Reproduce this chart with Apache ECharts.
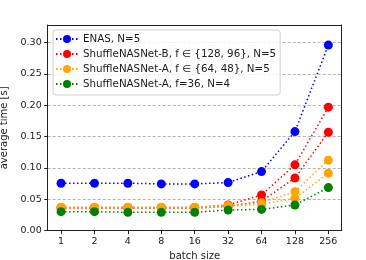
<!DOCTYPE html>
<html>
<head>
<meta charset="utf-8">
<script src="https://cdn.jsdelivr.net/npm/echarts@6/dist/echarts.min.js"></script>
<style>html,body{margin:0;padding:0;background:#fff}#c{width:366px;height:260px}</style>
</head>
<body>
<div id="c"></div>
<script>
var categories = ['1', '2', '4', '8', '16', '32', '64', '128', '256'];
var yTicks = [0, 0.05, 0.10, 0.15, 0.20, 0.25, 0.30];
var enas = [0.0757, 0.0757, 0.0757, 0.0746, 0.0746, 0.0767, 0.0943, 0.158, 0.296];
var shuffleB128 = [0.037, 0.037, 0.037, 0.037, 0.037, 0.041, 0.057, 0.105, 0.197];
var shuffleB96 = [0.036, 0.036, 0.036, 0.036, 0.036, 0.039, 0.047, 0.084, 0.157];
var shuffleA64 = [0.0373, 0.0373, 0.0373, 0.0373, 0.0373, 0.040, 0.0447, 0.0623, 0.1125];
var shuffleA48 = [0.036, 0.036, 0.036, 0.036, 0.036, 0.039, 0.042, 0.0517, 0.0917];
var shuffleA36 = [0.0304, 0.0304, 0.0293, 0.0293, 0.0293, 0.033, 0.034, 0.041, 0.0687];

var names = ['ENAS, N=5', 'ShuffleNASNet-B, f \u2208 {128, 96}, N=5', 'ShuffleNASNet-A, f \u2208 {64, 48}, N=5', 'ShuffleNASNet-A, f=36, N=4'];
var font = 'DejaVu Sans';

function mk(name, arr, color) {
  return {
    name: name, type: 'line', xAxisIndex: 0, yAxisIndex: 0,
    data: arr.map(function (v, i) { return [i, v]; }),
    symbol: 'circle', symbolSize: 9,
    itemStyle: { color: color },
    lineStyle: { color: color, width: 1.5, type: [1.5, 2.5] },
    animation: false
  };
}

var chart = echarts.init(document.getElementById('c'));
chart.setOption({
  backgroundColor: '#fff',
  animation: false,
  grid: { left: 47.7, right: 24.3, top: 25, bottom: 29.3, outerBoundsMode: 'none', containLabel: false },
  legend: {
    data: names,
    orient: 'vertical', left: 53, top: 30,
    padding: [4, 4, 6, 2],
    itemWidth: 22, itemHeight: 10, itemGap: 5,
    backgroundColor: 'rgba(255,255,255,0.8)',
    borderColor: '#d0d0d0', borderWidth: 1, borderRadius: 3,
    textStyle: { fontFamily: font, fontSize: 10.3, lineHeight: 10, color: '#1a1a1a' }
  },
  xAxis: [{
    type: 'value', min: -0.4, max: 8.4, position: 'bottom',
    name: 'batch size', nameLocation: 'middle', nameGap: 21,
    nameTextStyle: { fontFamily: font, fontSize: 10, color: '#1a1a1a' },
    axisLine: { show: true, onZero: false, lineStyle: { color: '#222', width: 1 } },
    axisTick: { show: true, length: 3.5, lineStyle: { color: '#222' }, customValues: categories.map(function (c, i) { return i; }) },
    axisLabel: { fontFamily: font, fontSize: 9.5, color: '#1a1a1a', margin: 6,
      customValues: categories.map(function (c, i) { return i; }),
      formatter: function (v) { return categories[Math.round(v)]; } },
    splitLine: { show: false }
  }, {
    type: 'value', min: -0.4, max: 8.4, position: 'top',
    axisLine: { show: true, onZero: false, lineStyle: { color: '#222', width: 1 } },
    axisTick: { show: false }, axisLabel: { show: false }, splitLine: { show: false }
  }],
  yAxis: [{
    type: 'value', min: 0, max: 0.328, interval: 0.05, position: 'left',
    name: 'average time [s]', nameLocation: 'middle', nameGap: 31,
    nameTextStyle: { fontFamily: font, fontSize: 10, color: '#1a1a1a' },
    axisLine: { show: true, onZero: false, lineStyle: { color: '#222', width: 1 } },
    axisTick: { show: true, length: 3.5, lineStyle: { color: '#222' }, customValues: yTicks },
    axisLabel: { fontFamily: font, fontSize: 9.5, color: '#1a1a1a', margin: 6,
      customValues: yTicks,
      formatter: function (v) { return v.toFixed(2); } },
    splitLine: { show: true, lineStyle: { color: '#a0a0a0', width: 0.8, type: [3, 2] } }
  }, {
    type: 'value', min: 0, max: 0.328, position: 'right',
    axisLine: { show: true, onZero: false, lineStyle: { color: '#222', width: 1 } },
    axisTick: { show: false }, axisLabel: { show: false }, splitLine: { show: false }
  }],
  series: [
    mk(names[0], enas, '#0000ff'),
    mk(names[1], shuffleB128, '#ff0000'),
    mk(names[1], shuffleB96, '#ff0000'),
    mk(names[2], shuffleA64, '#ffa500'),
    mk(names[2], shuffleA48, '#ffa500'),
    mk(names[3], shuffleA36, '#008000')
  ]
});
</script>
</body>
</html>
